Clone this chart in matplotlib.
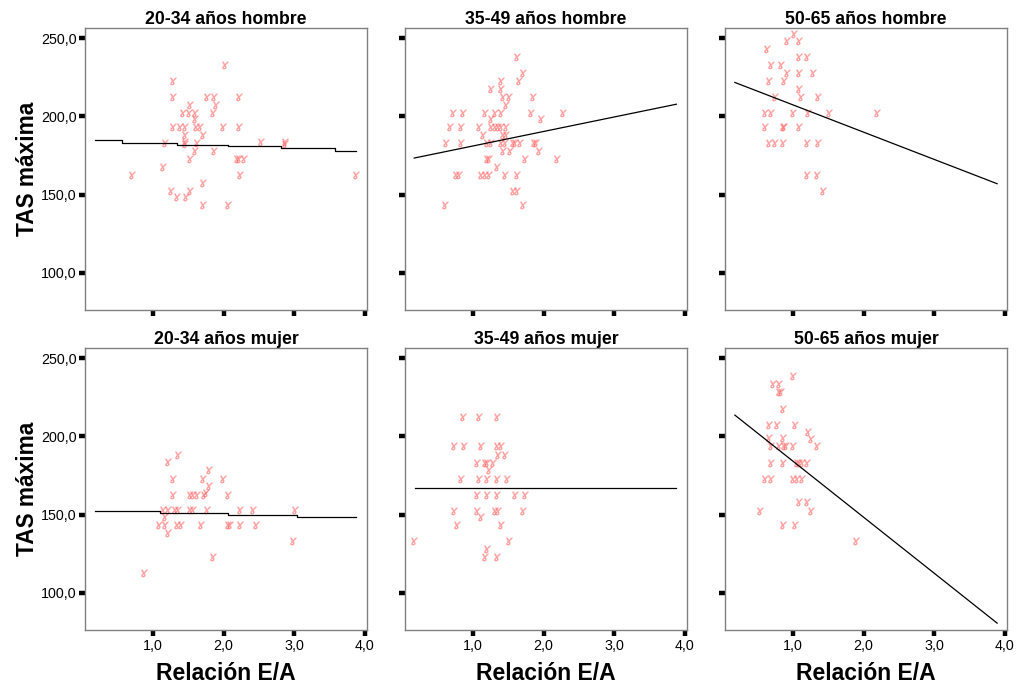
import matplotlib
matplotlib.use("Agg")
import matplotlib.pyplot as plt
from matplotlib.ticker import FuncFormatter

plt.rcParams['font.family'] = ['Liberation Sans', 'DejaVu Sans']

# ---------------- data ----------------
titles = ["20-34 años hombre", "35-49 años hombre", "50-65 años hombre",
          "20-34 años mujer", "35-49 años mujer", "50-65 años mujer"]

x_h20 = [2.02, 1.28, 1.28, 1.76, 1.87, 2.22, 1.53, 1.43, 1.51, 1.59, 1.59, 1.85, 1.90,
         1.28, 1.39, 1.45, 1.61, 1.67, 1.99, 2.22, 1.45, 1.71, 1.45, 1.17, 1.62, 2.53,
         2.87, 2.87, 1.59, 1.87, 1.52, 2.19, 2.29, 2.22, 0.71, 1.14, 2.24, 3.88, 1.71,
         1.25, 1.53, 1.34, 1.47, 1.71, 2.07, 1.45]
y_h20 = [232.7, 222.6, 212.4, 212.4, 212.4, 212.4, 207.5, 202.1, 202.1, 202.1, 198.5, 202.1, 207.1,
         193.2, 193.2, 193.2, 193.2, 193.2, 193.2, 193.2, 188.2, 188.2, 183.5, 182.9, 182.9, 183.5,
         183.5, 182.5, 177.8, 177.8, 172.4, 172.4, 172.4, 172.4, 162.2, 167.5, 162.2, 162.2, 157.3,
         152.1, 152.1, 148.3, 148.3, 143.0, 143.0, 182.5]

x_h35 = [1.62, 1.71, 1.65, 1.40, 1.25, 1.40, 1.43, 1.51, 1.85, 1.47, 0.72, 0.86, 1.17, 1.31,
         1.40, 1.82, 2.28, 1.96, 0.68, 0.83, 1.08, 1.25, 1.31, 1.36, 1.40, 1.47, 1.25, 1.14,
         1.43, 1.47, 0.62, 0.83, 1.20, 1.25, 1.40, 1.45, 1.57, 1.59, 1.67, 1.87, 1.90, 1.43,
         1.53, 1.94, 1.20, 1.23, 1.74, 2.19, 1.34, 0.76, 0.80, 1.11, 1.17, 1.23, 1.45, 1.62,
         1.57, 1.62, 0.60, 1.71]
y_h35 = [238.0, 227.8, 222.6, 222.6, 217.5, 217.5, 212.4, 212.4, 212.4, 207.1, 202.1, 202.1, 202.1, 202.1,
         202.1, 202.1, 202.1, 198.5, 193.2, 193.2, 193.2, 193.2, 193.2, 193.2, 193.2, 193.2, 198.5, 188.2,
         188.2, 188.2, 182.9, 182.9, 182.9, 182.9, 182.9, 182.9, 182.9, 182.9, 182.9, 182.9, 182.9, 177.8,
         177.8, 177.8, 172.4, 172.4, 172.4, 172.4, 167.5, 162.2, 162.2, 162.2, 162.2, 162.2, 162.2, 162.2,
         152.1, 152.1, 143.0, 143.0]

x_h50 = [1.02, 0.92, 1.08, 0.63, 1.08, 1.20, 0.69, 0.83, 0.92, 1.08, 1.28, 0.66, 0.88, 1.08,
         0.75, 1.11, 1.36, 0.60, 0.69, 1.00, 1.22, 1.51, 2.19, 0.60, 0.86, 0.88, 1.08, 0.66,
         0.75, 0.86, 1.20, 1.36, 1.20, 1.34, 1.42]
y_h50 = [252.4, 248.1, 248.1, 242.9, 238.0, 238.0, 232.7, 232.7, 227.8, 227.8, 227.8, 222.6, 222.6, 217.5,
         212.4, 212.4, 212.4, 202.1, 202.1, 202.1, 202.1, 202.1, 202.1, 193.2, 193.2, 193.2, 193.2, 182.9,
         182.9, 182.9, 182.9, 182.9, 162.2, 162.2, 152.1]

x_m20 = [1.36, 1.22, 1.28, 1.71, 1.79, 1.99, 1.79, 1.28, 1.53, 1.57, 1.62, 1.73, 1.75, 2.07,
         1.14, 1.22, 1.31, 1.36, 1.53, 1.57, 1.77, 2.24, 2.41, 3.01, 1.17, 1.09, 1.17, 1.34,
         1.40, 1.68, 2.07, 2.09, 2.24, 2.46, 1.22, 2.98, 1.85, 0.88]
y_m20 = [188.2, 183.3, 172.9, 172.9, 178.2, 172.9, 167.9, 162.6, 162.6, 162.6, 162.6, 162.6, 163.7, 162.6,
         152.6, 152.6, 152.6, 152.6, 152.6, 152.6, 152.6, 152.6, 152.6, 152.6, 148.3, 143.4, 143.4, 143.4,
         143.4, 143.4, 143.4, 143.4, 143.4, 143.4, 138.0, 133.1, 122.6, 112.4]

x_m35 = [0.86, 1.08, 1.34, 0.74, 0.88, 1.11, 1.34, 1.40, 1.36, 1.45, 1.06, 1.17, 1.20, 1.28,
         1.23, 0.83, 1.08, 1.20, 1.34, 1.48, 1.06, 1.20, 1.34, 1.59, 1.74, 0.74, 1.06, 1.31,
         1.36, 1.71, 1.11, 0.77, 1.40, 0.17, 1.51, 1.20, 1.17, 1.34]
y_m35 = [212.4, 212.4, 212.4, 193.6, 193.6, 193.6, 193.6, 193.6, 188.2, 188.2, 182.9, 182.9, 182.9, 182.9,
         178.2, 172.9, 172.9, 172.9, 172.9, 172.9, 162.6, 162.6, 162.6, 162.6, 162.6, 152.4, 152.4, 152.4,
         152.4, 152.4, 148.3, 143.4, 143.4, 133.1, 133.1, 128.0, 122.6, 122.6]

x_m50 = [1.00, 0.72, 0.80, 0.80, 0.83, 0.86, 0.66, 0.77, 1.03, 1.22, 1.25, 0.66, 0.86, 0.69,
         0.80, 0.88, 0.90, 1.00, 1.34, 0.69, 0.86, 1.06, 1.08, 1.13, 1.20, 0.61, 0.69, 1.00,
         1.06, 1.13, 1.08, 1.20, 1.25, 0.54, 0.86, 1.03, 1.90]
y_m50 = [238.5, 233.1, 233.1, 228.2, 228.2, 217.7, 207.5, 207.5, 207.5, 202.6, 198.3, 198.9, 198.9, 193.6,
         193.6, 193.6, 193.6, 193.6, 193.6, 182.9, 182.9, 182.9, 182.9, 182.9, 182.9, 172.9, 172.9, 172.9,
         172.9, 172.9, 157.7, 157.7, 152.4, 152.4, 143.4, 143.4, 133.1]

# fitted curves (x breakpoints, TAS values)
fit_x_h20 = [0.18, 0.56, 1.34, 2.06, 2.82, 3.58, 3.87]
fit_y_h20 = [184.6, 182.9, 181.9, 180.8, 179.5, 178.0, 178.0]
fit_x_h35 = [0.17, 3.88]
fit_y_h35 = [173.3, 207.7]
fit_x_h50 = [0.18, 3.89]
fit_y_h50 = [221.6, 156.9]
fit_x_m20 = [0.18, 1.10, 2.06, 3.04, 3.87]
fit_y_m20 = [152.4, 151.1, 150.0, 148.5, 148.5]
fit_x_m35 = [0.18, 3.87]
fit_y_m35 = [166.7, 166.7]
fit_x_m50 = [0.18, 3.89]
fit_y_m50 = [213.5, 80.6]

x_ticks = [1.0, 2.0, 3.0, 4.0]
y_ticks = [100.0, 150.0, 200.0, 250.0]
x_label = "Relación E/A"
y_label = "TAS máxima"

# ---------------- layout ----------------
W, H = 1017, 686
fig = plt.figure(figsize=(W / 100, H / 100), dpi=100)

cols = [(85, 367), (405, 687), (725, 1007)]
rows = [(28, 310), (348, 630)]

panels = [
    (x_h20, y_h20, fit_x_h20, fit_y_h20, True),
    (x_h35, y_h35, fit_x_h35, fit_y_h35, False),
    (x_h50, y_h50, fit_x_h50, fit_y_h50, False),
    (x_m20, y_m20, fit_x_m20, fit_y_m20, True),
    (x_m35, y_m35, fit_x_m35, fit_y_m35, False),
    (x_m50, y_m50, fit_x_m50, fit_y_m50, False),
]

comma = FuncFormatter(lambda v, p: f"{v:.1f}".replace(".", ","))

for i, (xs, ys, fx, fy, steps) in enumerate(panels):
    r, c = divmod(i, 3)
    l, rr = cols[c]
    t, b = rows[r]
    ax = fig.add_axes([l / W, 1 - b / H, (rr - l) / W, (b - t) / H])
    ax.scatter(xs, ys, marker='$ɤ$', s=28, color='#ff6666', alpha=0.6,
               linewidths=0.2, zorder=2)
    ax.plot(fx, fy, color='black', lw=0.9, zorder=3,
            drawstyle='steps-post' if steps else 'default')
    ax.set_xlim(0.04, 4.03)
    ax.set_ylim(76.2, 256.4)
    ax.set_xticks(x_ticks)
    ax.set_yticks(y_ticks)
    ax.xaxis.set_major_formatter(comma)
    ax.yaxis.set_major_formatter(comma)
    ax.tick_params(direction='out', length=4.2, width=3.2, color='black',
                   labelsize=10.3, pad=2)
    if c != 0:
        ax.tick_params(axis='y', labelleft=False)
    if r != 1:
        ax.tick_params(axis='x', labelbottom=False)
    for s in ax.spines.values():
        s.set_color('#808080')
        s.set_linewidth(1.0)
    ax.set_title(titles[i], fontsize=12.7, fontweight='bold', pad=2.5)
    if r == 1:
        fig.text((l + rr) / 2 / W, 1 - 673 / H, x_label, ha='center', va='center',
                 fontsize=16.5, fontweight='bold')
    if c == 0:
        fig.text(28 / W, 1 - (t + b) / 2 / H, y_label, ha='center', va='center',
                 rotation=90, fontsize=16.3, fontweight='bold')

fig.savefig("out.png", dpi=100)
